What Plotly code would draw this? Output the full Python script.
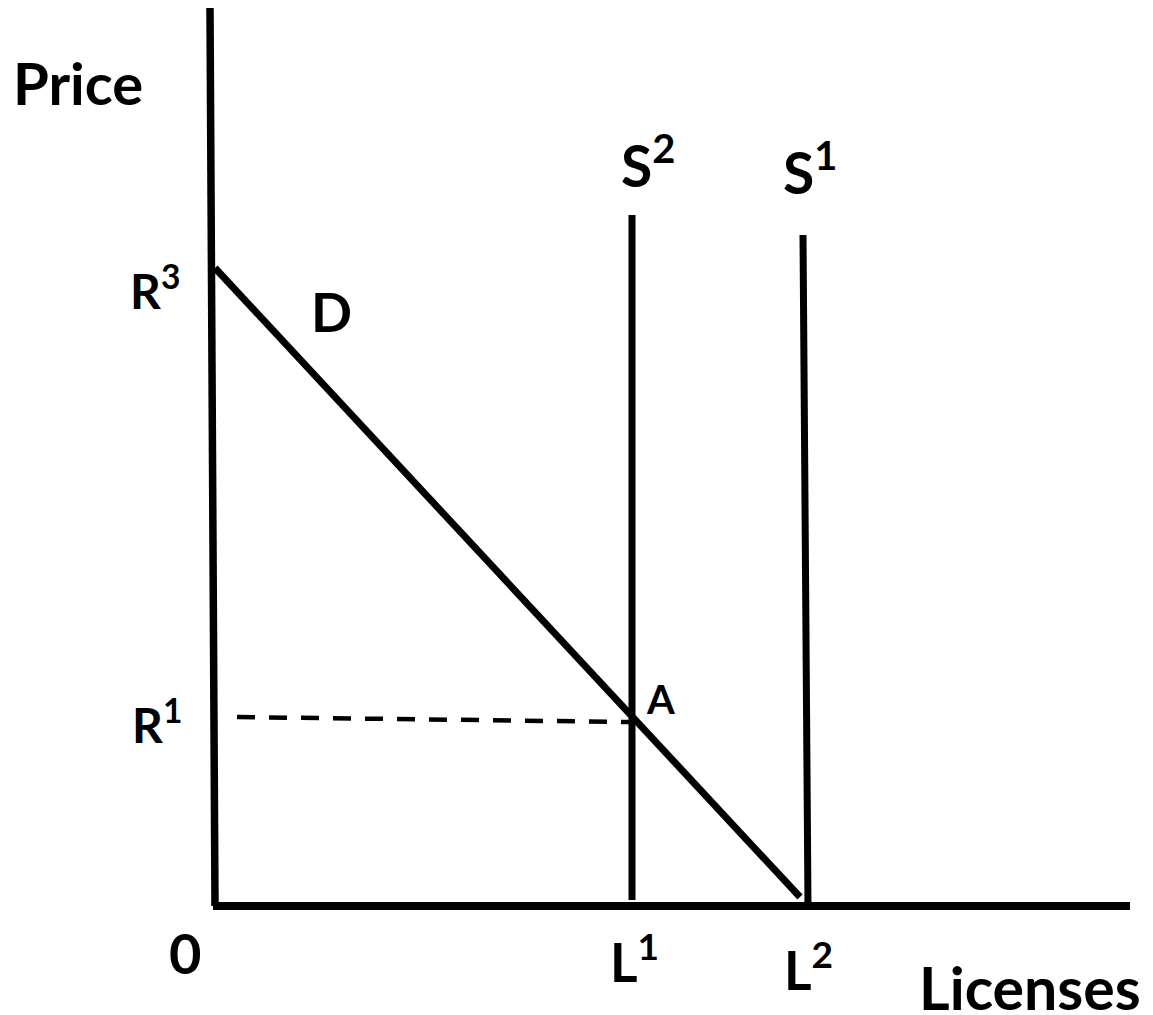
import plotly.graph_objects as go

# diagram units: roughly 100 px per unit, origin where the two axes meet
price_axis_x = [-0.03, 0.02]
price_axis_y = [8.98, 0.0]
licenses_axis_x = [0.0, 9.17]
licenses_axis_y = [0.0, 0.0]

demand_x = [0.02, 5.87]
demand_y = [6.38, 0.09]

s2_x = [4.19, 4.19]
s2_y = [6.91, 0.06]
s1_x = [5.90, 5.95]
s1_y = [6.71, 0.0]

r1_x = [0.24, 4.17]
r1_y = [1.89, 1.84]

FONT = "Lato"


def seg(x, y, width, dash="solid"):
    return go.Scatter(x=x, y=y, mode="lines", hoverinfo="skip",
                      line=dict(color="black", width=width, dash=dash))


fig = go.Figure()
fig.add_trace(seg(price_axis_x, price_axis_y, 7.5))
fig.add_trace(seg(licenses_axis_x, licenses_axis_y, 8))
fig.add_trace(seg(demand_x, demand_y, 7))
fig.add_trace(seg(s2_x, s2_y, 7))
fig.add_trace(seg(s1_x, s1_y, 7))
fig.add_trace(seg(r1_x, r1_y, 4.5, dash="18px,14px"))


def label(text, x, y, size):
    fig.add_annotation(x=x, y=y, text=text, showarrow=False,
                       xanchor="center", yanchor="middle",
                       font=dict(family=FONT, size=size, color="black", weight="bold"))


label("Price", -1.35, 8.24, 58)
label("Licenses", 8.17, -0.81, 59)
label("R<sup>3</sup>", -0.58, 6.19, 48)
label("R<sup>1</sup>", -0.56, 1.85, 48)
label("D", 1.18, 5.95, 54)
label("S<sup>2</sup>", 4.35, 7.45, 57)
label("S<sup>1</sup>", 5.97, 7.38, 57)
label("A", 4.47, 2.07, 40)
label("0", -0.28, -0.46, 56)
label("L<sup>1</sup>", 4.21, -0.52, 53)
label("L<sup>2</sup>", 5.95, -0.60, 53)

# the page puts the figure 8 px in from the top left corner
fig.update_layout(
    width=1145, height=1007, autosize=False,
    margin=dict(l=0, r=0, t=0, b=0),
    paper_bgcolor="white", plot_bgcolor="white",
    showlegend=False,
    xaxis=dict(range=[-2.05, 9.40], visible=False, fixedrange=True),
    yaxis=dict(range=[-1.09, 8.98], visible=False, fixedrange=True),
)

fig.write_html("out.html")
